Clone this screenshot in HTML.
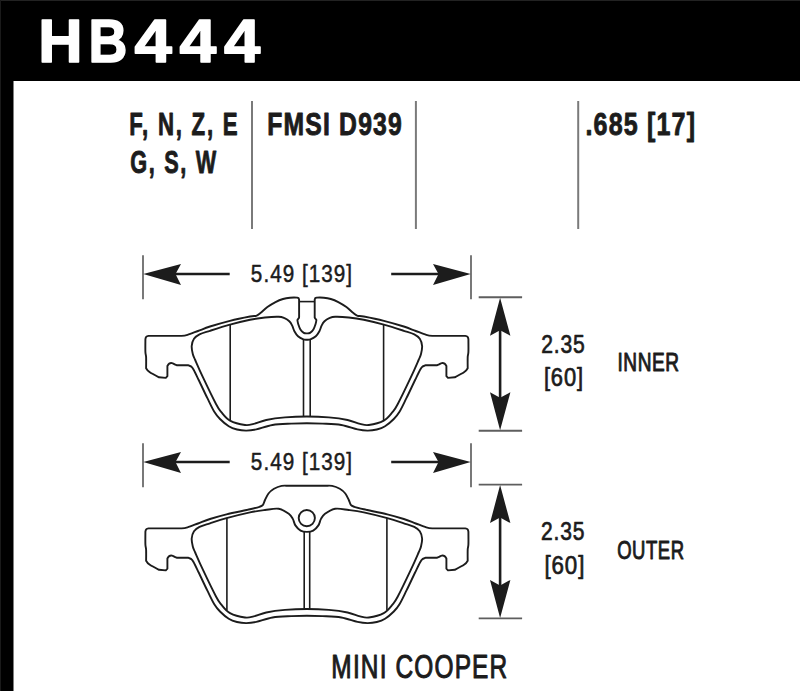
<!DOCTYPE html>
<html><head><meta charset="utf-8"><style>html,body{margin:0;padding:0;background:#fff;width:800px;height:691px;overflow:hidden}svg{display:block}</style></head>
<body><svg width="800" height="691" viewBox="0 0 800 691">
<rect x="0" y="0" width="800" height="81" fill="#000"/>
<rect x="0" y="0" width="13.5" height="691" fill="#000"/>
<rect x="0" y="0" width="800" height="1" fill="#222"/>
<rect x="0" y="0" width="1" height="691" fill="#1a1a1a"/>
<text id="h" transform="translate(38.15,62.00) scale(0.9981,1)" font-family="Liberation Sans" font-size="61.5" font-weight="bold" fill="#fff" stroke="#fff" stroke-width="1.6" stroke-linejoin="round">H</text>
<text id="b" transform="translate(88.43,62.00) scale(0.8753,1)" font-family="Liberation Sans" font-size="61.5" font-weight="bold" fill="#fff" stroke="#fff" stroke-width="1.6" stroke-linejoin="round">B</text>
<text id="f1" transform="translate(134.47,62.00) scale(1.0920,1)" font-family="Liberation Sans" font-size="61.5" font-weight="bold" fill="#fff" stroke="#fff" stroke-width="1.6" stroke-linejoin="round">4</text>
<text id="f2" transform="translate(179.47,62.00) scale(1.0751,1)" font-family="Liberation Sans" font-size="61.5" font-weight="bold" fill="#fff" stroke="#fff" stroke-width="1.6" stroke-linejoin="round">4</text>
<text id="f3" transform="translate(223.91,62.00) scale(1.0611,1)" font-family="Liberation Sans" font-size="61.5" font-weight="bold" fill="#fff" stroke="#fff" stroke-width="1.6" stroke-linejoin="round">4</text>
<text id="r1" transform="translate(129.24,134.50) scale(0.6958,1)" font-family="Liberation Sans" font-size="32" font-weight="bold" fill="#1c1c1c" stroke="#1c1c1c" stroke-width="0.9" stroke-linejoin="round" letter-spacing="2.5">F, N, Z, E</text>
<text id="r2" transform="translate(130.19,173.00) scale(0.6775,1)" font-family="Liberation Sans" font-size="32" font-weight="bold" fill="#1c1c1c" stroke="#1c1c1c" stroke-width="0.9" stroke-linejoin="round" letter-spacing="2.5">G, S, W</text>
<text id="fm" transform="translate(267.32,135.40) scale(0.7737,1)" font-family="Liberation Sans" font-size="32" font-weight="bold" fill="#1c1c1c" stroke="#1c1c1c" stroke-width="0.9" stroke-linejoin="round" letter-spacing="1.5">FMSI D939</text>
<text id="th" transform="translate(585.44,135.20) scale(0.7824,1)" font-family="Liberation Sans" font-size="32" font-weight="bold" fill="#1c1c1c" stroke="#1c1c1c" stroke-width="0.9" stroke-linejoin="round" letter-spacing="1.5">.685 [17]</text>
<text id="d1" transform="translate(250.87,282.00) scale(0.8613,1)" font-family="Liberation Sans" font-size="24" font-weight="normal" fill="#1c1c1c" stroke="#1c1c1c" stroke-width="0.5" stroke-linejoin="round" letter-spacing="1.2">5.49 [139]</text>
<text id="d2" transform="translate(250.87,469.50) scale(0.8613,1)" font-family="Liberation Sans" font-size="24" font-weight="normal" fill="#1c1c1c" stroke="#1c1c1c" stroke-width="0.5" stroke-linejoin="round" letter-spacing="1.2">5.49 [139]</text>
<text id="a1" transform="translate(541.18,352.90) scale(0.8434,1)" font-family="Liberation Sans" font-size="25" font-weight="normal" fill="#1c1c1c" stroke="#1c1c1c" stroke-width="0.7" stroke-linejoin="round" letter-spacing="1.0">2.35</text>
<text id="a2" transform="translate(543.89,386.00) scale(0.8764,1)" font-family="Liberation Sans" font-size="25" font-weight="normal" fill="#1c1c1c" stroke="#1c1c1c" stroke-width="0.7" stroke-linejoin="round" letter-spacing="1.0">[60]</text>
<text id="in" transform="translate(617.42,370.50) scale(0.7341,1)" font-family="Liberation Sans" font-size="26" font-weight="normal" fill="#1c1c1c" stroke="#1c1c1c" stroke-width="1.0" stroke-linejoin="round" letter-spacing="0.8">INNER</text>
<text id="a3" transform="translate(541.03,540.30) scale(0.8411,1)" font-family="Liberation Sans" font-size="25" font-weight="normal" fill="#1c1c1c" stroke="#1c1c1c" stroke-width="0.7" stroke-linejoin="round" letter-spacing="1.0">2.35</text>
<text id="a4" transform="translate(544.48,573.50) scale(0.8929,1)" font-family="Liberation Sans" font-size="25" font-weight="normal" fill="#1c1c1c" stroke="#1c1c1c" stroke-width="0.7" stroke-linejoin="round" letter-spacing="1.0">[60]</text>
<text id="ou" transform="translate(617.13,559.00) scale(0.7106,1)" font-family="Liberation Sans" font-size="26" font-weight="normal" fill="#1c1c1c" stroke="#1c1c1c" stroke-width="1.0" stroke-linejoin="round" letter-spacing="0.8">OUTER</text>
<text id="mc" transform="translate(331.37,677.50) scale(0.7190,1)" font-family="Liberation Sans" font-size="34" font-weight="normal" fill="#1c1c1c" stroke="#1c1c1c" stroke-width="1.1" stroke-linejoin="round" letter-spacing="1.6">MINI COOPER</text>
<line x1="252" y1="101" x2="252" y2="229" stroke="#7a7a7a" stroke-width="2"/>
<line x1="415.9" y1="101" x2="415.9" y2="229" stroke="#7a7a7a" stroke-width="2"/>
<line x1="578.2" y1="101" x2="578.2" y2="229" stroke="#7a7a7a" stroke-width="2"/>
<line x1="143" y1="255.2" x2="143" y2="299.2" stroke="#6a6a6a" stroke-width="1.8"/>
<line x1="471" y1="255.2" x2="471" y2="299.2" stroke="#6a6a6a" stroke-width="1.8"/>
<path d="M143.3,274 L181.0,264 L175.5,274 L181.0,285Z" fill="#1c1c1c"/><path d="M470.7,274 L433.0,264 L438.5,274 L433.0,285Z" fill="#1c1c1c"/><line x1="173.0" y1="274" x2="229.7" y2="274" stroke="#1c1c1c" stroke-width="2.6"/><line x1="391.2" y1="274" x2="441.0" y2="274" stroke="#1c1c1c" stroke-width="2.6"/>
<line x1="143" y1="443.2" x2="143" y2="487.2" stroke="#6a6a6a" stroke-width="1.8"/>
<line x1="471" y1="443.2" x2="471" y2="487.2" stroke="#6a6a6a" stroke-width="1.8"/>
<path d="M143.3,462 L181.0,452 L175.5,462 L181.0,473Z" fill="#1c1c1c"/><path d="M470.7,462 L433.0,452 L438.5,462 L433.0,473Z" fill="#1c1c1c"/><line x1="173.0" y1="462" x2="229.7" y2="462" stroke="#1c1c1c" stroke-width="2.6"/><line x1="391.2" y1="462" x2="441.0" y2="462" stroke="#1c1c1c" stroke-width="2.6"/>
<path d="M500.1,297.7 L510.40000000000003,335.7 L500.1,330.2 L490.0,335.7Z" fill="#1c1c1c"/><path d="M500.1,430.3 L510.40000000000003,392.3 L500.1,397.8 L490.0,392.3Z" fill="#1c1c1c"/><line x1="500.1" y1="327.2" x2="500.1" y2="400.8" stroke="#1c1c1c" stroke-width="2.6"/><line x1="478.7" y1="297.2" x2="522.1" y2="297.2" stroke="#5e5e5e" stroke-width="1.9"/><line x1="478.7" y1="430.8" x2="522.1" y2="430.8" stroke="#5e5e5e" stroke-width="1.9"/>
<path d="M500.1,485.1 L510.40000000000003,523.1 L500.1,517.6 L490.0,523.1Z" fill="#1c1c1c"/><path d="M500.1,617.9 L510.40000000000003,579.9 L500.1,585.4 L490.0,579.9Z" fill="#1c1c1c"/><line x1="500.1" y1="514.6" x2="500.1" y2="588.4" stroke="#1c1c1c" stroke-width="2.6"/><line x1="478.7" y1="484.6" x2="522.1" y2="484.6" stroke="#5e5e5e" stroke-width="1.9"/><line x1="478.7" y1="618.4" x2="522.1" y2="618.4" stroke="#5e5e5e" stroke-width="1.9"/>
<g fill="none" stroke="#1c1c1c" stroke-width="1.9" stroke-linejoin="round">
<path d="M306.90,333.40 C305.87,333.40 304.88,333.57 303.80,332.90 C302.72,332.23 301.33,330.88 300.40,329.40 C299.47,327.92 298.70,325.57 298.20,324.00 C297.70,322.43 297.40,320.00 297.40,320.00 C297.40,320.00 299.10,317.60 299.10,317.60 C299.10,317.60 299.10,299.60 299.10,299.60 C299.10,299.60 298.60,298.20 298.60,298.20 C298.60,298.20 297.20,297.60 297.20,297.60 C297.20,297.60 292.37,297.47 290.00,297.70 C287.63,297.93 285.42,298.27 283.00,299.00 C280.58,299.73 278.10,300.75 275.50,302.10 C272.90,303.45 269.92,305.28 267.40,307.10 C264.88,308.92 262.27,311.55 260.40,313.00 C258.53,314.45 257.93,315.22 256.20,315.80 C254.47,316.38 254.38,315.67 250.00,316.50 C245.62,317.33 236.57,319.13 229.90,320.80 C223.23,322.47 215.32,324.80 210.00,326.50 C204.68,328.20 201.75,329.62 198.00,331.00 C194.25,332.38 190.25,333.98 187.50,334.80 C184.75,335.62 181.50,335.90 181.50,335.90 C181.50,335.90 148.60,335.90 148.60,335.90 C148.60,335.90 146.73,336.25 146.20,336.80 C145.67,337.35 145.40,339.20 145.40,339.20 C145.40,339.20 145.28,349.03 145.40,352.00 C145.52,354.97 145.98,354.30 146.10,357.00 C146.22,359.70 146.10,368.20 146.10,368.20 C146.10,368.20 147.35,370.48 149.50,372.00 C151.65,373.52 159.00,377.30 159.00,377.30 C159.00,377.30 165.80,377.90 165.80,377.90 C165.80,377.90 167.40,376.20 167.40,376.20 C167.40,376.20 167.40,366.00 167.40,366.00 C167.40,366.00 168.43,364.08 169.20,363.60 C169.97,363.12 171.10,362.98 172.00,363.10 C172.90,363.22 173.83,363.95 174.60,364.30 C175.37,364.65 176.60,365.20 176.60,365.20 C176.60,365.20 188.00,365.20 188.00,365.20 C188.00,365.20 191.20,366.50 191.20,366.50 C191.20,366.50 192.25,367.25 193.50,369.50 C194.75,371.75 196.38,375.22 198.70,380.00 C201.02,384.78 204.80,392.90 207.40,398.20 C210.00,403.50 212.20,408.33 214.30,411.80 C216.40,415.27 217.59,416.59 220.00,419.00 C222.41,421.41 225.92,424.50 228.75,426.25 C231.58,428.00 234.08,428.77 237.00,429.50 C239.92,430.23 243.04,430.62 246.25,430.60 C249.46,430.58 251.88,430.33 256.25,429.40 C260.62,428.47 266.67,425.97 272.50,425.00 C278.33,424.03 285.52,423.90 291.25,423.60 C296.98,423.30 301.68,423.20 306.90,423.20 C312.12,423.20 316.82,423.30 322.55,423.60 C328.28,423.90 335.47,424.03 341.30,425.00 C347.13,425.97 353.17,428.47 357.55,429.40 C361.92,430.33 364.34,430.58 367.55,430.60 C370.76,430.62 373.88,430.23 376.80,429.50 C379.72,428.77 382.22,428.00 385.05,426.25 C387.88,424.50 391.39,421.41 393.80,419.00 C396.21,416.59 397.40,415.27 399.50,411.80 C401.60,408.33 403.80,403.50 406.40,398.20 C409.00,392.90 412.78,384.78 415.10,380.00 C417.42,375.22 419.05,371.75 420.30,369.50 C421.55,367.25 422.60,366.50 422.60,366.50 C422.60,366.50 425.80,365.20 425.80,365.20 C425.80,365.20 437.20,365.20 437.20,365.20 C437.20,365.20 438.43,364.65 439.20,364.30 C439.97,363.95 440.90,363.22 441.80,363.10 C442.70,362.98 443.83,363.12 444.60,363.60 C445.37,364.08 446.40,366.00 446.40,366.00 C446.40,366.00 446.40,376.20 446.40,376.20 C446.40,376.20 448.00,377.90 448.00,377.90 C448.00,377.90 454.80,377.30 454.80,377.30 C454.80,377.30 462.15,373.52 464.30,372.00 C466.45,370.48 467.70,368.20 467.70,368.20 C467.70,368.20 467.58,359.70 467.70,357.00 C467.82,354.30 468.28,354.97 468.40,352.00 C468.52,349.03 468.40,339.20 468.40,339.20 C468.40,339.20 468.13,337.35 467.60,336.80 C467.07,336.25 465.20,335.90 465.20,335.90 C465.20,335.90 432.30,335.90 432.30,335.90 C432.30,335.90 429.05,335.62 426.30,334.80 C423.55,333.98 419.55,332.38 415.80,331.00 C412.05,329.62 409.12,328.20 403.80,326.50 C398.48,324.80 390.57,322.47 383.90,320.80 C377.23,319.13 368.18,317.33 363.80,316.50 C359.42,315.67 359.33,316.38 357.60,315.80 C355.87,315.22 355.27,314.45 353.40,313.00 C351.53,311.55 348.92,308.92 346.40,307.10 C343.88,305.28 340.90,303.45 338.30,302.10 C335.70,300.75 333.22,299.73 330.80,299.00 C328.38,298.27 326.17,297.93 323.80,297.70 C321.43,297.47 316.60,297.60 316.60,297.60 C316.60,297.60 315.20,298.20 315.20,298.20 C315.20,298.20 314.70,299.60 314.70,299.60 C314.70,299.60 314.70,317.60 314.70,317.60 C314.70,317.60 316.40,320.00 316.40,320.00 C316.40,320.00 316.10,322.43 315.60,324.00 C315.10,325.57 314.33,327.92 313.40,329.40 C312.47,330.88 311.08,332.23 310.00,332.90 C308.92,333.57 307.93,333.40 306.90,333.40Z"/>
<path d="M306.90,339.80 C305.73,339.80 304.88,340.00 303.40,339.40 C301.92,338.80 299.50,337.57 298.00,336.20 C296.50,334.83 295.37,332.97 294.40,331.20 C293.43,329.43 293.05,327.25 292.20,325.60 C291.35,323.95 290.58,322.53 289.30,321.30 C288.02,320.07 286.28,318.95 284.50,318.20 C282.72,317.45 281.85,316.92 278.60,316.80 C275.35,316.68 269.77,317.00 265.00,317.50 C260.23,318.00 255.83,318.60 250.00,319.80 C244.17,321.00 236.67,322.87 230.00,324.70 C223.33,326.53 215.08,329.18 210.00,330.80 C204.92,332.42 202.17,333.07 199.50,334.40 C196.83,335.73 195.30,336.87 194.00,338.80 C192.70,340.73 191.90,343.47 191.70,346.00 C191.50,348.53 192.22,351.67 192.80,354.00 C193.38,356.33 193.50,356.10 195.20,360.00 C196.90,363.90 199.53,370.07 203.00,377.40 C206.47,384.73 212.95,398.22 216.00,404.00 C219.05,409.78 218.97,409.33 221.30,412.10 C223.63,414.87 226.05,418.45 230.00,420.60 C233.95,422.75 241.04,424.45 245.00,425.00 C248.96,425.55 250.21,424.73 253.75,423.90 C257.29,423.07 261.04,421.08 266.25,420.00 C271.46,418.92 278.23,417.98 285.00,417.40 C291.77,416.82 299.60,416.50 306.90,416.50 C314.20,416.50 322.02,416.82 328.80,417.40 C335.57,417.98 342.34,418.92 347.55,420.00 C352.76,421.08 356.51,423.07 360.05,423.90 C363.59,424.73 364.84,425.55 368.80,425.00 C372.76,424.45 379.85,422.75 383.80,420.60 C387.75,418.45 390.17,414.87 392.50,412.10 C394.83,409.33 394.75,409.78 397.80,404.00 C400.85,398.22 407.33,384.73 410.80,377.40 C414.27,370.07 416.90,363.90 418.60,360.00 C420.30,356.10 420.42,356.33 421.00,354.00 C421.58,351.67 422.30,348.53 422.10,346.00 C421.90,343.47 421.10,340.73 419.80,338.80 C418.50,336.87 416.97,335.73 414.30,334.40 C411.63,333.07 408.88,332.42 403.80,330.80 C398.72,329.18 390.47,326.53 383.80,324.70 C377.13,322.87 369.63,321.00 363.80,319.80 C357.97,318.60 353.57,318.00 348.80,317.50 C344.03,317.00 338.45,316.68 335.20,316.80 C331.95,316.92 331.08,317.45 329.30,318.20 C327.52,318.95 325.78,320.07 324.50,321.30 C323.22,322.53 322.45,323.95 321.60,325.60 C320.75,327.25 320.37,329.43 319.40,331.20 C318.43,332.97 317.30,334.83 315.80,336.20 C314.30,337.57 311.88,338.80 310.40,339.40 C308.92,340.00 308.07,339.80 306.90,339.80Z"/>
<path d="M306.90,485.80 C301.27,485.80 294.22,485.78 290.00,485.80 C285.78,485.82 284.27,485.40 281.60,485.90 C278.93,486.40 276.18,487.53 274.00,488.80 C271.82,490.07 270.00,491.63 268.50,493.50 C267.00,495.37 265.92,498.12 265.00,500.00 C264.08,501.88 263.92,503.67 263.00,504.80 C262.08,505.93 261.67,506.05 259.50,506.80 C257.33,507.55 255.50,508.05 250.00,509.30 C244.50,510.55 233.17,512.68 226.50,514.30 C219.83,515.92 214.75,517.47 210.00,519.00 C205.25,520.53 201.75,522.12 198.00,523.50 C194.25,524.88 190.25,526.48 187.50,527.30 C184.75,528.12 181.50,528.40 181.50,528.40 C181.50,528.40 148.60,528.40 148.60,528.40 C148.60,528.40 146.73,528.75 146.20,529.30 C145.67,529.85 145.40,531.70 145.40,531.70 C145.40,531.70 145.28,541.53 145.40,544.50 C145.52,547.47 145.98,546.80 146.10,549.50 C146.22,552.20 146.10,560.70 146.10,560.70 C146.10,560.70 147.35,562.98 149.50,564.50 C151.65,566.02 159.00,569.80 159.00,569.80 C159.00,569.80 165.80,570.40 165.80,570.40 C165.80,570.40 167.40,568.70 167.40,568.70 C167.40,568.70 167.40,558.50 167.40,558.50 C167.40,558.50 168.43,556.58 169.20,556.10 C169.97,555.62 171.10,555.48 172.00,555.60 C172.90,555.72 173.83,556.45 174.60,556.80 C175.37,557.15 176.60,557.70 176.60,557.70 C176.60,557.70 188.00,557.70 188.00,557.70 C188.00,557.70 191.20,559.00 191.20,559.00 C191.20,559.00 192.25,559.75 193.50,562.00 C194.75,564.25 196.38,567.72 198.70,572.50 C201.02,577.28 204.80,585.40 207.40,590.70 C210.00,596.00 212.20,600.83 214.30,604.30 C216.40,607.77 217.59,609.09 220.00,611.50 C222.41,613.91 225.92,617.00 228.75,618.75 C231.58,620.50 234.08,621.27 237.00,622.00 C239.92,622.73 243.04,623.12 246.25,623.10 C249.46,623.08 251.88,622.83 256.25,621.90 C260.62,620.97 266.67,618.47 272.50,617.50 C278.33,616.53 285.52,616.40 291.25,616.10 C296.98,615.80 301.68,615.70 306.90,615.70 C312.12,615.70 316.82,615.80 322.55,616.10 C328.28,616.40 335.47,616.53 341.30,617.50 C347.13,618.47 353.17,620.97 357.55,621.90 C361.92,622.83 364.34,623.08 367.55,623.10 C370.76,623.12 373.88,622.73 376.80,622.00 C379.72,621.27 382.22,620.50 385.05,618.75 C387.88,617.00 391.39,613.91 393.80,611.50 C396.21,609.09 397.40,607.77 399.50,604.30 C401.60,600.83 403.80,596.00 406.40,590.70 C409.00,585.40 412.78,577.28 415.10,572.50 C417.42,567.72 419.05,564.25 420.30,562.00 C421.55,559.75 422.60,559.00 422.60,559.00 C422.60,559.00 425.80,557.70 425.80,557.70 C425.80,557.70 437.20,557.70 437.20,557.70 C437.20,557.70 438.43,557.15 439.20,556.80 C439.97,556.45 440.90,555.72 441.80,555.60 C442.70,555.48 443.83,555.62 444.60,556.10 C445.37,556.58 446.40,558.50 446.40,558.50 C446.40,558.50 446.40,568.70 446.40,568.70 C446.40,568.70 448.00,570.40 448.00,570.40 C448.00,570.40 454.80,569.80 454.80,569.80 C454.80,569.80 462.15,566.02 464.30,564.50 C466.45,562.98 467.70,560.70 467.70,560.70 C467.70,560.70 467.58,552.20 467.70,549.50 C467.82,546.80 468.28,547.47 468.40,544.50 C468.52,541.53 468.40,531.70 468.40,531.70 C468.40,531.70 468.13,529.85 467.60,529.30 C467.07,528.75 465.20,528.40 465.20,528.40 C465.20,528.40 432.30,528.40 432.30,528.40 C432.30,528.40 429.05,528.12 426.30,527.30 C423.55,526.48 419.55,524.88 415.80,523.50 C412.05,522.12 408.55,520.53 403.80,519.00 C399.05,517.47 393.97,515.92 387.30,514.30 C380.63,512.68 369.30,510.55 363.80,509.30 C358.30,508.05 356.47,507.55 354.30,506.80 C352.13,506.05 351.72,505.93 350.80,504.80 C349.88,503.67 349.72,501.88 348.80,500.00 C347.88,498.12 346.80,495.37 345.30,493.50 C343.80,491.63 341.98,490.07 339.80,488.80 C337.62,487.53 334.87,486.40 332.20,485.90 C329.53,485.40 328.02,485.82 323.80,485.80 C319.58,485.78 312.53,485.80 306.90,485.80Z"/>
<path d="M306.90,531.90 C304.80,531.90 302.52,531.68 300.60,530.60 C298.68,529.52 296.70,527.35 295.40,525.40 C294.10,523.45 293.90,520.83 292.80,518.90 C291.70,516.97 291.15,515.48 288.80,513.80 C286.45,512.12 282.67,509.43 278.70,508.80 C274.73,508.17 269.78,509.40 265.00,510.00 C260.22,510.60 256.42,511.03 250.00,512.40 C243.58,513.77 233.17,516.38 226.50,518.20 C219.83,520.02 214.50,521.85 210.00,523.30 C205.50,524.75 202.17,525.57 199.50,526.90 C196.83,528.23 195.30,529.37 194.00,531.30 C192.70,533.23 191.90,535.97 191.70,538.50 C191.50,541.03 192.22,544.17 192.80,546.50 C193.38,548.83 193.50,548.60 195.20,552.50 C196.90,556.40 199.53,562.57 203.00,569.90 C206.47,577.23 212.95,590.72 216.00,596.50 C219.05,602.28 218.97,601.83 221.30,604.60 C223.63,607.37 226.05,610.95 230.00,613.10 C233.95,615.25 241.04,616.95 245.00,617.50 C248.96,618.05 250.21,617.23 253.75,616.40 C257.29,615.57 261.04,613.58 266.25,612.50 C271.46,611.42 278.23,610.48 285.00,609.90 C291.77,609.32 299.60,609.00 306.90,609.00 C314.20,609.00 322.02,609.32 328.80,609.90 C335.57,610.48 342.34,611.42 347.55,612.50 C352.76,613.58 356.51,615.57 360.05,616.40 C363.59,617.23 364.84,618.05 368.80,617.50 C372.76,616.95 379.85,615.25 383.80,613.10 C387.75,610.95 390.17,607.37 392.50,604.60 C394.83,601.83 394.75,602.28 397.80,596.50 C400.85,590.72 407.33,577.23 410.80,569.90 C414.27,562.57 416.90,556.40 418.60,552.50 C420.30,548.60 420.42,548.83 421.00,546.50 C421.58,544.17 422.30,541.03 422.10,538.50 C421.90,535.97 421.10,533.23 419.80,531.30 C418.50,529.37 416.97,528.23 414.30,526.90 C411.63,525.57 408.30,524.75 403.80,523.30 C399.30,521.85 393.97,520.02 387.30,518.20 C380.63,516.38 370.22,513.77 363.80,512.40 C357.38,511.03 353.58,510.60 348.80,510.00 C344.02,509.40 339.07,508.17 335.10,508.80 C331.13,509.43 327.35,512.12 325.00,513.80 C322.65,515.48 322.10,516.97 321.00,518.90 C319.90,520.83 319.70,523.45 318.40,525.40 C317.10,527.35 315.12,529.52 313.20,530.60 C311.28,531.68 309.00,531.90 306.90,531.90Z"/>
</g>
<g stroke="#1c1c1c" stroke-width="1.6">
<line x1="230.2" y1="324.5" x2="230.2" y2="420.6"/>
<line x1="383.6" y1="324.5" x2="383.6" y2="420.6"/>
<line x1="303.5" y1="339.2" x2="303.5" y2="416.2"/>
<line x1="310.2" y1="339.2" x2="310.2" y2="416.2"/>
<line x1="299.1" y1="301.6" x2="314.7" y2="301.6"/>
<line x1="226.9" y1="518.2" x2="226.9" y2="610"/>
<line x1="386.9" y1="518.2" x2="386.9" y2="610"/>
<line x1="304.2" y1="531.8" x2="304.2" y2="608.8"/>
<line x1="309.7" y1="531.8" x2="309.7" y2="608.8"/>
</g>
<circle cx="306.8" cy="518.1" r="8.1" fill="none" stroke="#1c1c1c" stroke-width="1.9"/>
</svg></body></html>
